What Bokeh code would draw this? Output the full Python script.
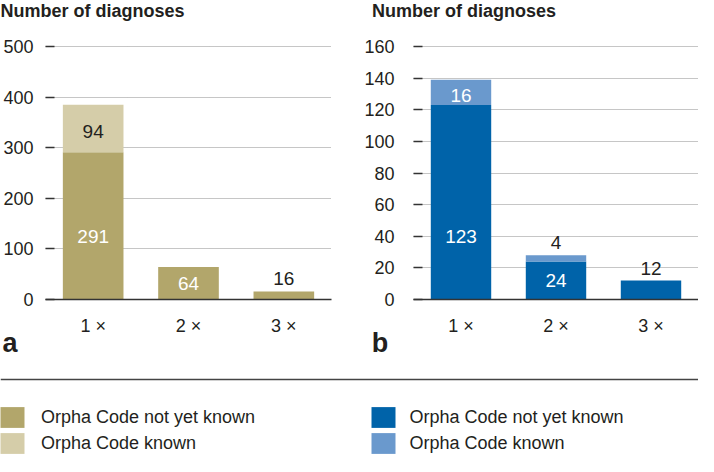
from bokeh.plotting import figure
from bokeh.models import (ColumnDataSource, Range1d, FactorRange, Label, Legend,
                          LegendItem, Span, SingleIntervalTicker, Title)
from bokeh.layouts import column, row
from bokeh.embed import file_html
from bokeh.resources import INLINE

# ---------------- data ----------------
categories = ["1 ×", "2 ×", "3 ×"]
a_not_known = [291, 64, 16]
a_known = [94, 0, 0]
b_not_known = [123, 24, 12]
b_known = [16, 4, 0]
a_ymax, a_step = 500, 100
b_ymax, b_step = 160, 20
y_title = "Number of diagnoses"
panel_letters = ["a", "b"]
legend_labels = ["Orpha Code not yet known", "Orpha Code known"]

OLIVE_DARK, OLIVE_LIGHT = "#b2a66b", "#d5cda9"
BLUE_DARK, BLUE_LIGHT = "#0063a9", "#6a99cd"
TXT = "#231f20"
FONT = "Liberation Sans"

W_A, W_B = 355, 343
H_HEAD, H_CHART, H_FOOT = 28, 336, 92


def bare(width, height, x_range):
    f = figure(width=width, height=height, x_range=x_range, y_range=Range1d(0, 1),
               min_border=0, output_backend="svg", toolbar_location=None)
    f.axis.visible = False
    f.grid.visible = False
    f.outline_line_color = None
    return f


def make_chart(not_known, known, ymax, step, dark, light, known_txt, letter,
               width, border_left, border_right, label_standoff, letter_dx):
    p = figure(x_range=FactorRange(*categories),
               y_range=Range1d(0, ymax * 1.02),
               width=width, height=H_CHART,
               min_border_left=border_left, min_border_right=border_right,
               min_border_top=13, min_border_bottom=65,
               output_backend="svg", toolbar_location=None)
    p.outline_line_color = None
    p.xgrid.grid_line_color = None
    p.ygrid.grid_line_color = "#8c8c8c"
    p.ygrid.grid_line_dash = "1 1"
    p.ygrid.grid_line_width = 1
    p.x_range.range_padding = 0

    src = ColumnDataSource(dict(cat=categories, nk=not_known, k=known))
    p.vbar_stack(["nk", "k"], x="cat", width=0.636, color=[dark, light],
                 line_color=None, source=src)

    # value labels
    xs, ys, ts, cs, offs = [], [], [], [], []
    for c, u, k in zip(categories, not_known, known):
        if u / ymax >= 0.1:
            xs.append(c); ys.append(min(u / 2, 0.25 * ymax)); ts.append(str(u))
            cs.append("white"); offs.append(0)
        else:
            xs.append(c); ys.append(u + k); ts.append(str(u))
            cs.append(TXT); offs.append(-12.5)
        if k > 0:
            if k / ymax >= 0.08:
                xs.append(c); ys.append(u + k / 2); ts.append(str(k))
                cs.append(known_txt); offs.append(3)
            else:
                xs.append(c); ys.append(u + k); ts.append(str(k))
                cs.append(TXT); offs.append(-12.5)
    lsrc = ColumnDataSource(dict(x=xs, y=ys, t=ts, c=cs, o=offs))
    p.text(x="x", y="y", text="t", text_color="c", y_offset="o", source=lsrc,
           text_align="center", text_baseline="middle",
           text_font_size="19px", text_font={"value": FONT})

    yax = p.yaxis[0]
    yax.ticker = SingleIntervalTicker(interval=step)
    yax.axis_line_color = None
    yax.major_tick_in = 9
    yax.major_tick_out = 0
    yax.major_tick_line_color = "#333333"
    yax.major_tick_line_width = 1.5
    yax.minor_tick_line_color = None
    yax.major_label_text_font = FONT
    yax.major_label_text_font_size = "18px"
    yax.major_label_text_color = TXT
    yax.major_label_standoff = label_standoff

    xax = p.xaxis[0]
    xax.axis_line_color = "#333333"
    xax.axis_line_width = 1.5
    xax.major_tick_line_color = None
    xax.minor_tick_line_color = None
    xax.major_label_text_font = FONT
    xax.major_label_text_font_size = "18px"
    xax.major_label_text_color = TXT
    xax.major_label_standoff = 10

    p.add_layout(Title(text=letter, align="left", offset=letter_dx,
                       vertical_align="middle", standoff=-23,
                       text_font=FONT, text_font_style="bold",
                       text_font_size="27px", text_color=TXT), "below")
    return p


pa = make_chart(a_not_known, a_known, a_ymax, a_step, OLIVE_DARK, OLIVE_LIGHT,
                TXT, panel_letters[0], W_A, 43, 24, 8, -43)
pb = make_chart(b_not_known, b_known, b_ymax, b_step, BLUE_DARK, BLUE_LIGHT,
                "white", panel_letters[1], W_B, 58, 0, 15, -41.8)

# header with the two axis titles
head = bare(W_A + W_B, H_HEAD, Range1d(0, 1))
for x0 in (0, 371.5):
    head.add_layout(Label(x=x0, y=H_HEAD - 10.2, x_units="screen", y_units="screen",
                          text=y_title, text_font=FONT, text_font_style="bold",
                          text_font_size="18px", text_color=TXT,
                          text_baseline="middle", text_align="left"))

# footer: separator and legends
foot = bare(W_A + W_B, H_FOOT, FactorRange(*categories))
foot.add_layout(Span(location=H_FOOT - 15, location_units="screen", dimension="width",
                     line_color="#444444", line_width=1.5))


def add_legend(nk, k, colors, x, standoff):
    src = ColumnDataSource(dict(cat=categories, nk=nk, k=k))
    rs = foot.vbar_stack(["nk", "k"], x="cat", width=0.5, color=colors,
                         line_color=None, source=src, visible=False)
    items = [LegendItem(label=l, renderers=[r]) for l, r in zip(legend_labels, rs)]
    foot.add_layout(Legend(items=items, location=(x, 0), glyph_width=30, glyph_height=26,
                           spacing=-1, padding=0, margin=0, label_standoff=standoff,
                           label_text_font=FONT, label_text_font_size="18px",
                           label_text_color=TXT, border_line_color=None,
                           background_fill_alpha=0, inactive_fill_alpha=0,
                           orientation="vertical"))


add_legend(a_not_known, a_known, [OLIVE_DARK, OLIVE_LIGHT], -3, 14)
add_legend(b_not_known, b_known, [BLUE_DARK, BLUE_LIGHT], 367.5, 12)

layout = column(head, row(pa, pb), foot)
open("out.html", "w").write(file_html(layout, INLINE))
